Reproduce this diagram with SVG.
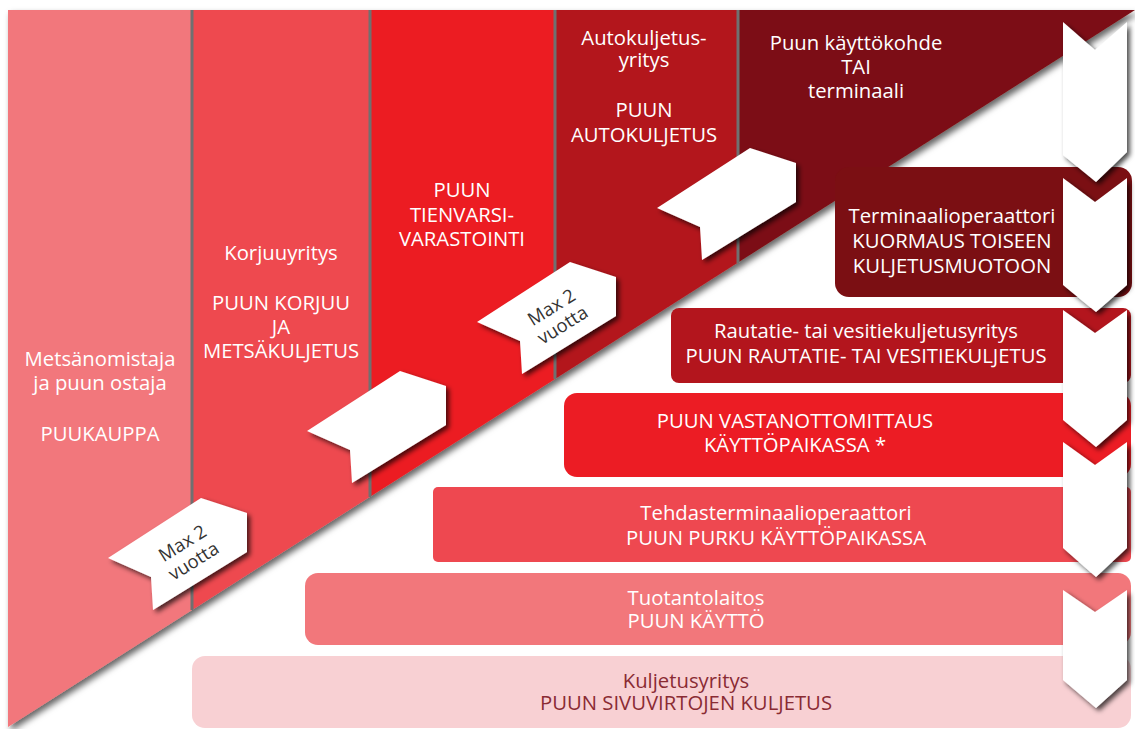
<svg xmlns="http://www.w3.org/2000/svg" xmlns:xlink="http://www.w3.org/1999/xlink" width="1135" height="729" viewBox="0 0 1135 729">
<style>
  text { font-family: "Open Sans", "Noto Sans", "Liberation Sans", sans-serif; font-size: 20.3px; fill: #ffffff; text-anchor: middle; }
  .dark { fill: #8a2b33; }
  .flagtxt { fill: #333333; font-size: 18.5px; }
  .div { stroke: #707070; stroke-width: 3; }
  .chev { fill: #ffffff; }
  .flag { fill: #ffffff; }
</style>
<defs>
  <filter id="sh" x="-10%" y="-10%" width="130%" height="130%">
    <feDropShadow dx="3" dy="4" stdDeviation="3" flood-color="#000" flood-opacity="0.6"/>
  </filter>
  <filter id="shs" x="-30%" y="-30%" width="170%" height="170%">
    <feDropShadow dx="3" dy="3" stdDeviation="2.5" flood-color="#000" flood-opacity="0.7"/>
  </filter>
  <polygon id="flagshape" points="0,0 93,-60 139,-45 139,-6 45,52 43,19"/>
</defs>
<rect width="1135" height="729" fill="#ffffff"/>

<!-- columns (triangle) -->
<g id="columns" filter="url(#sh)">
  <polygon points="8,10 192,10 192,609.9 8,727" fill="#f2777b"/>
  <polygon points="192,10 370,10 370,496.7 192,609.9" fill="#ee4850"/>
  <polygon points="370,10 555,10 555,379 370,496.7" fill="#ec1c24"/>
  <polygon points="555,10 738,10 738,262.6 555,379" fill="#b3151d"/>
  <polygon points="738,10 1135,10 738,262.6" fill="#7b0f13"/>
  <line class="div" x1="192" y1="10" x2="192" y2="610"/>
  <line class="div" x1="370" y1="10" x2="370" y2="497"/>
  <line class="div" x1="555" y1="10" x2="555" y2="379"/>
  <line class="div" x1="738" y1="10" x2="738" y2="263"/>
</g>

<g id="col1">
  <text x="100" y="366">Metsänomistaja</text>
  <text x="100" y="390">ja puun ostaja</text>
  <text x="100" y="441">PUUKAUPPA</text>
</g>
<g id="col2">
  <text x="281" y="260">Korjuuyritys</text>
  <text x="281" y="310">PUUN KORJUU</text>
  <text x="281" y="334">JA</text>
  <text x="281" y="358">METSÄKULJETUS</text>
</g>
<g id="col3">
  <text x="462" y="197">PUUN</text>
  <text x="462" y="222">TIENVARSI-</text>
  <text x="462" y="246">VARASTOINTI</text>
</g>
<g id="col4">
  <text x="644" y="45">Autokuljetus-</text>
  <text x="644" y="67">yritys</text>
  <text x="644" y="117">PUUN</text>
  <text x="644" y="142">AUTOKULJETUS</text>
</g>
<g id="col5">
  <text x="856" y="50">Puun käyttökohde</text>
  <text x="856" y="74">TAI</text>
  <text x="856" y="98">terminaali</text>
</g>

<!-- horizontal boxes -->
<g id="box-terminaali">
  <rect x="835" y="167" width="297" height="130" rx="14" fill="#7b0f13"/>
  <text x="952" y="223">Terminaalioperaattori</text>
  <text x="952" y="248">KUORMAUS TOISEEN</text>
  <text x="952" y="273">KULJETUSMUOTOON</text>
</g>
<g id="box-rautatie">
  <rect x="671" y="308" width="460" height="75" rx="8" fill="#b3151d"/>
  <text x="866" y="338">Rautatie- tai vesitiekuljetusyritys</text>
  <text x="866" y="363">PUUN RAUTATIE- TAI VESITIEKULJETUS</text>
</g>
<g id="box-vastaanotto">
  <rect x="564" y="393" width="567" height="84" rx="13" fill="#ec1c24"/>
  <text x="795" y="428">PUUN VASTANOTTOMITTAUS</text>
  <text x="795" y="452">KÄYTTÖPAIKASSA *</text>
</g>
<g id="box-tehdas">
  <rect x="433" y="487" width="698" height="75" rx="5" fill="#ee4850"/>
  <text x="776" y="520">Tehdasterminaalioperaattori</text>
  <text x="776" y="545">PUUN PURKU KÄYTTÖPAIKASSA</text>
</g>
<g id="box-tuotanto">
  <rect x="305" y="573" width="826" height="72" rx="13" fill="#f2777b"/>
  <text x="696" y="605">Tuotantolaitos</text>
  <text x="696" y="628">PUUN KÄYTTÖ</text>
</g>
<g id="box-kuljetus">
  <rect x="192" y="656" width="939" height="72" rx="13" fill="#f8d0d3"/>
  <text class="dark" x="686" y="688">Kuljetusyritys</text>
  <text class="dark" x="686" y="710">PUUN SIVUVIRTOJEN KULJETUS</text>
</g>

<!-- connectors: flags and chevrons -->
<g id="connectors">
  <g id="flag1">
    <use xlink:href="#flagshape" href="#flagshape" class="flag" transform="translate(108,558)" filter="url(#shs)"/>
    <g transform="translate(188,552) rotate(-32)">
      <text class="flagtxt" x="0" y="-4">Max 2</text>
      <text class="flagtxt" x="0" y="17">vuotta</text>
    </g>
  </g>
  <use id="flag2" xlink:href="#flagshape" href="#flagshape" class="flag" transform="translate(307,431)" filter="url(#shs)"/>
  <g id="flag3">
    <use xlink:href="#flagshape" href="#flagshape" class="flag" transform="translate(477,322)" filter="url(#shs)"/>
    <g transform="translate(557,316) rotate(-32)">
      <text class="flagtxt" x="0" y="-4">Max 2</text>
      <text class="flagtxt" x="0" y="17">vuotta</text>
    </g>
  </g>
  <use id="flag4" xlink:href="#flagshape" href="#flagshape" class="flag" transform="translate(657,208)" filter="url(#shs)"/>

  <g id="chevrons" filter="url(#shs)">
    <polygon class="chev" points="1063,22 1095,50 1127,22 1127,152 1096,182 1063,155"/>
    <polygon class="chev" points="1063,178 1095,202 1127,178 1127,285 1096,312 1063,285"/>
    <polygon class="chev" points="1063,310 1095,333 1127,310 1127,420 1096,447 1063,420"/>
    <polygon class="chev" points="1063,442 1095,465 1127,442 1127,548 1096,577 1063,548"/>
    <polygon class="chev" points="1063,590 1095,612 1127,590 1127,680 1096,708 1063,680"/>
  </g>
</g>
</svg>
